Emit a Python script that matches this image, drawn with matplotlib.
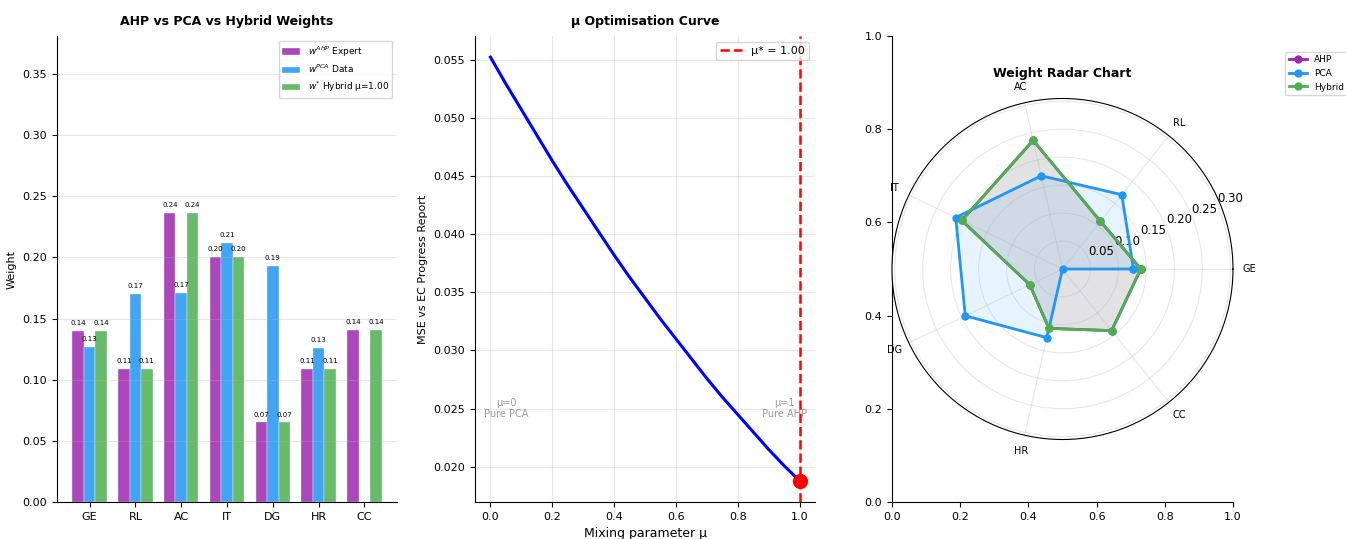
import numpy as np
import matplotlib
matplotlib.use("Agg")
import matplotlib.pyplot as plt

plt.rcParams['axes.spines.top'] = False
plt.rcParams['axes.spines.right'] = False
plt.rcParams['font.size'] = 8

# ---- data ----
criteria = ["GE", "RL", "AC", "IT", "DG", "HR", "CC"]
w_ahp = [0.140, 0.109, 0.236, 0.200, 0.065, 0.109, 0.141]
w_pca = [0.127, 0.170, 0.171, 0.212, 0.193, 0.126, 0.000]
w_hybrid = [0.140, 0.109, 0.236, 0.200, 0.065, 0.109, 0.141]
mu_best = 1.00

mu_grid = [0.0, 0.05, 0.1, 0.15, 0.2, 0.25, 0.3, 0.35, 0.4, 0.45, 0.5,
           0.55, 0.6, 0.65, 0.7, 0.75, 0.8, 0.85, 0.9, 0.95, 1.0]
mse_curve = [0.0552, 0.0529, 0.0507, 0.0485, 0.0463, 0.0442, 0.0422,
             0.0402, 0.0382, 0.0363, 0.0345, 0.0327, 0.0310, 0.0293,
             0.0276, 0.0260, 0.0245, 0.0230, 0.0215, 0.0201, 0.0188]

c_ahp = "#9C27B0"
c_pca = "#2196F3"
c_hyb = "#4CAF50"

fig = plt.figure(figsize=(13.46, 5.39), dpi=100)
W, H = 1346, 539


def rect(x0, y0, x1, y1):
    return [x0 / W, 1 - y1 / H, (x1 - x0) / W, (y1 - y0) / H]


# ---- panel 1: grouped bars ----
ax1 = fig.add_axes(rect(57, 36, 397, 502))
x = np.arange(len(criteria))
bw = 0.25
series = [(w_ahp, c_ahp, r"$w^{AHP}$ Expert"),
          (w_pca, c_pca, r"$w^{PCA}$ Data"),
          (w_hybrid, c_hyb, r"$w^{*}$ Hybrid μ=%.2f" % mu_best)]
for k, (vals, col, lab) in enumerate(series):
    bars = ax1.bar(x + (k - 1) * bw, vals, bw, color=col, alpha=0.85,
                   label=lab, edgecolor="white", linewidth=0.3)
    for b, v in zip(bars, vals):
        if v > 0.01:
            ax1.text(b.get_x() + b.get_width() / 2, v + 0.004, "%.2f" % v,
                     ha="center", va="bottom", fontsize=5)
ax1.set_xticks(x)
ax1.set_xticklabels(criteria)
ax1.set_ylim(0, 0.381)
ax1.set_ylabel("Weight")
ax1.set_title("AHP vs PCA vs Hybrid Weights", fontsize=9, fontweight="bold", pad=8)
ax1.legend(fontsize=6.5, loc="upper right")
ax1.grid(axis="y", alpha=0.3)

# ---- panel 2: mu curve ----
ax2 = fig.add_axes(rect(475, 36, 815, 502))
ax2.plot(mu_grid, mse_curve, color="blue", lw=2.2)
ax2.axvline(mu_best, color="red", ls="--", lw=1.8, label="μ* = %.2f" % mu_best)
ax2.plot([mu_best], [mse_curve[-1]], "o", color="red", markersize=10, zorder=5)
ax2.text(0.05, 0.025, "μ=0\nPure PCA", ha="center", va="center",
         fontsize=7, color="gray", alpha=0.8)
ax2.text(0.95, 0.025, "μ=1\nPure AHP", ha="center", va="center",
         fontsize=7, color="gray", alpha=0.8)
ax2.set_xlabel("Mixing parameter μ", fontsize=9)
ax2.set_ylabel("MSE vs EC Progress Report")
ax2.set_title("μ Optimisation Curve", fontsize=9, fontweight="bold", pad=8)
ax2.legend(fontsize=8, loc="upper right")
ax2.grid(alpha=0.3)

# ---- panel 3: radar ----
r3 = rect(892, 36, 1233, 502)
ax3 = fig.add_axes(r3)
ax3p = fig.add_axes(r3, polar=True)
angles = np.linspace(0, 2 * np.pi, len(criteria), endpoint=False)
ang_c = np.concatenate([angles, angles[:1]])
for vals, col, lab in [(w_ahp, c_ahp, "AHP"), (w_pca, c_pca, "PCA"),
                       (w_hybrid, c_hyb, "Hybrid")]:
    v = np.concatenate([vals, vals[:1]])
    ax3p.plot(ang_c, v, "o-", color=col, lw=2, markersize=5, label=lab)
    ax3p.fill(ang_c, v, color=col, alpha=0.1)
ax3p.set_xticks(angles)
ax3p.set_xticklabels(criteria, fontsize=7)
ax3p.tick_params(axis="x", pad=1)
ax3p.tick_params(axis="y", labelsize=8.5)
ax3p.set_ylim(0, 0.305)
ax3p.grid(alpha=0.3)
ax3p.set_title("Weight Radar Chart", fontsize=9, fontweight="bold", y=1.04)
ax3p.legend(fontsize=6.5, loc="upper right", bbox_to_anchor=(1.35, 1.15))

fig.savefig("out.png", dpi=100)
